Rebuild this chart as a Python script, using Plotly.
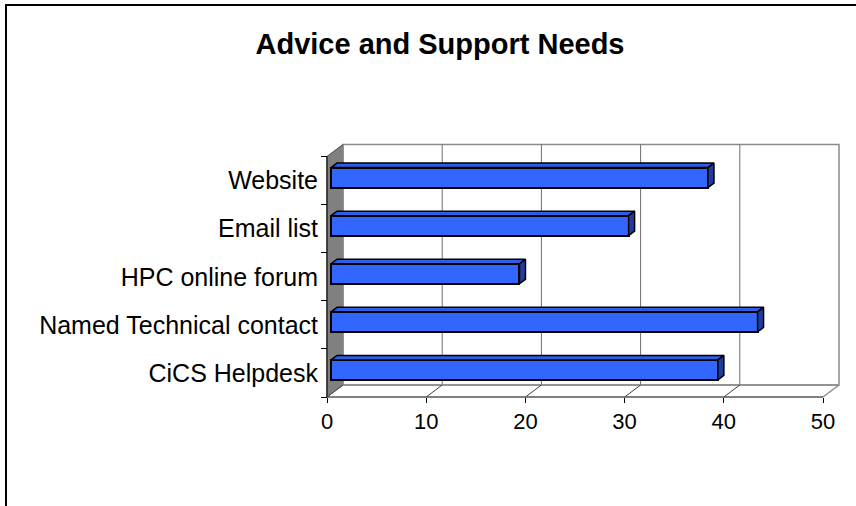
import plotly.graph_objects as go

# ---------------- data ----------------
categories = ["CiCS Helpdesk", "Named Technical contact", "HPC online forum", "Email list", "Website"]
values = [39, 43, 19, 30, 38]
x_ticks = [0, 10, 20, 30, 40, 50]
title_text = "Advice and Support Needs"

# ---------------- geometry (pixels -> data units) ----------------
W, H = 856, 506
PX_X = 9.92          # pixels per value unit
PX_Y = 48.1          # pixels per category
DEPTH_PX_X, DEPTH_PX_Y = 16, 12
PAD = 2
ML, MT = 325, 143
PW, PH = 516, 256
MR, MB = W - ML - PW, H - MT - PH

ddx = DEPTH_PX_X / PX_X
ddy = DEPTH_PX_Y / PX_Y
XMAX = x_ticks[-1]
NC = len(categories)

x_lo = -PAD / PX_X
x_hi = x_lo + PW / PX_X
y_lo = -0.5 - PAD / PX_Y
y_hi = y_lo + PH / PX_Y

d0, d1 = 0.25, 0.625         # bar front/back depth fractions
bar_w = 20 / PX_Y
base = d0 * ddx
sx, sy = (d1 - d0) * ddx, (d1 - d0) * ddy

FRONT = "#3366FF"
TOP = "#2F5CE8"
SIDE = "#203C9C"
FONT = "Arial, 'Liberation Sans', sans-serif"

fig = go.Figure()

ypos = [i + d0 * ddy for i in range(NC)]
fig.add_trace(go.Bar(
    orientation="h", y=ypos, x=values, base=base, width=bar_w,
    marker=dict(color=FRONT, line=dict(color="black", width=2)),
    showlegend=False, hoverinfo="skip"))

for yc, v in zip(ypos, values):
    yt, yb = yc + bar_w / 2, yc - bar_w / 2
    xe = base + v
    # top face
    fig.add_trace(go.Scatter(
        x=[base, xe, xe + sx, base + sx, base],
        y=[yt, yt, yt + sy, yt + sy, yt],
        mode="lines", fill="toself", fillcolor=TOP,
        line=dict(color="black", width=1.5), showlegend=False, hoverinfo="skip"))
    # end cap
    fig.add_trace(go.Scatter(
        x=[xe, xe, xe + sx, xe + sx, xe],
        y=[yt, yb, yb + sy, yt + sy, yt],
        mode="lines", fill="toself", fillcolor=SIDE,
        line=dict(color="black", width=1.5), showlegend=False, hoverinfo="skip"))

shapes = []
yb0, yt0 = -0.5, NC - 0.5
# back wall
shapes.append(dict(type="rect", xref="x", yref="y", x0=ddx, x1=XMAX + ddx, y0=yb0 + ddy, y1=yt0 + ddy,
                   line=dict(color="#8C8C8C", width=1.5), fillcolor="white", layer="below"))
for k in x_ticks[1:-1]:
    shapes.append(dict(type="line", xref="x", yref="y", x0=k + ddx, x1=k + ddx, y0=yb0 + ddy, y1=yt0 + ddy,
                       line=dict(color="#6E6E6E", width=1), layer="below"))
# left wall
shapes.append(dict(type="path", xref="x", yref="y",
                   path=f"M 0 {yb0} L {ddx} {yb0 + ddy} L {ddx} {yt0 + ddy} L 0 {yt0} Z",
                   fillcolor="#808080", line=dict(color="#808080", width=1), layer="below"))
shapes.append(dict(type="line", xref="x", yref="y", x0=0, x1=ddx, y0=yt0, y1=yt0 + ddy,
                   line=dict(color="#555555", width=1), layer="below"))
# floor
shapes.append(dict(type="line", xref="x", yref="y", x0=ddx, x1=XMAX + ddx, y0=yb0 + ddy, y1=yb0 + ddy,
                   line=dict(color="#8C8C8C", width=1.5), layer="below"))
shapes.append(dict(type="line", xref="x", yref="y", x0=XMAX, x1=XMAX + ddx, y0=yb0, y1=yb0 + ddy,
                   line=dict(color="#8C8C8C", width=1.5), layer="below"))
for k in x_ticks[:-1]:
    shapes.append(dict(type="line", xref="x", yref="y", x0=k, x1=k + ddx, y0=yb0, y1=yb0 + ddy,
                       line=dict(color="#404040", width=1), layer="below"))
shapes.append(dict(type="line", xref="x", yref="y", x0=0, x1=XMAX, y0=yb0, y1=yb0,
                   line=dict(color="#555555", width=1.5), layer="below"))
shapes.append(dict(type="line", xref="x", yref="y", x0=0, x1=0, y0=yb0, y1=yt0,
                   line=dict(color="#222222", width=1.5), layer="below"))
# outer chart frame
shapes.append(dict(type="rect", xref="paper", yref="paper",
                   x0=(6 - ML) / PW, x1=(W + 20 - ML) / PW,
                   y0=(MT + PH - (H + 20)) / PH, y1=(MT + PH - 5) / PH,
                   line=dict(color="black", width=2), fillcolor="rgba(0,0,0,0)", layer="below"))

fig.update_layout(
    width=W, height=H,
    margin=dict(l=ML, r=MR, t=MT, b=MB, pad=0),
    paper_bgcolor="white", plot_bgcolor="rgba(0,0,0,0)",
    font=dict(family=FONT, color="black"),
    title=dict(text=f"<b>{title_text}</b>", font=dict(size=29, family=FONT, color="black"),
               x=440 / W, xanchor="center", xref="container",
               y=1 - 44 / H, yanchor="middle", yref="container"),
    shapes=shapes,
    bargap=0,
    xaxis=dict(range=[x_lo, x_hi], tickvals=x_ticks, ticks="outside", ticklen=5,
               tickcolor="black", tickwidth=1, showline=False, showgrid=False, zeroline=False,
               tickfont=dict(size=22), anchor="free", position=PAD / PH, fixedrange=True),
    yaxis=dict(range=[y_lo, y_hi], tickvals=list(range(NC)), ticktext=categories,
               ticks="outside", ticklen=4, tickcolor="rgba(0,0,0,0)",
               minor=dict(tickvals=[i - 0.5 for i in range(NC + 1)], ticks="outside", ticklen=6,
                          tickcolor="black", tickwidth=1),
               showline=False, showgrid=False, zeroline=False,
               tickfont=dict(size=25), anchor="free", position=PAD / PW, fixedrange=True),
)

fig.write_html("out.html", config={"displayModeBar": False},
               post_script="document.body.style.margin='0px';")
